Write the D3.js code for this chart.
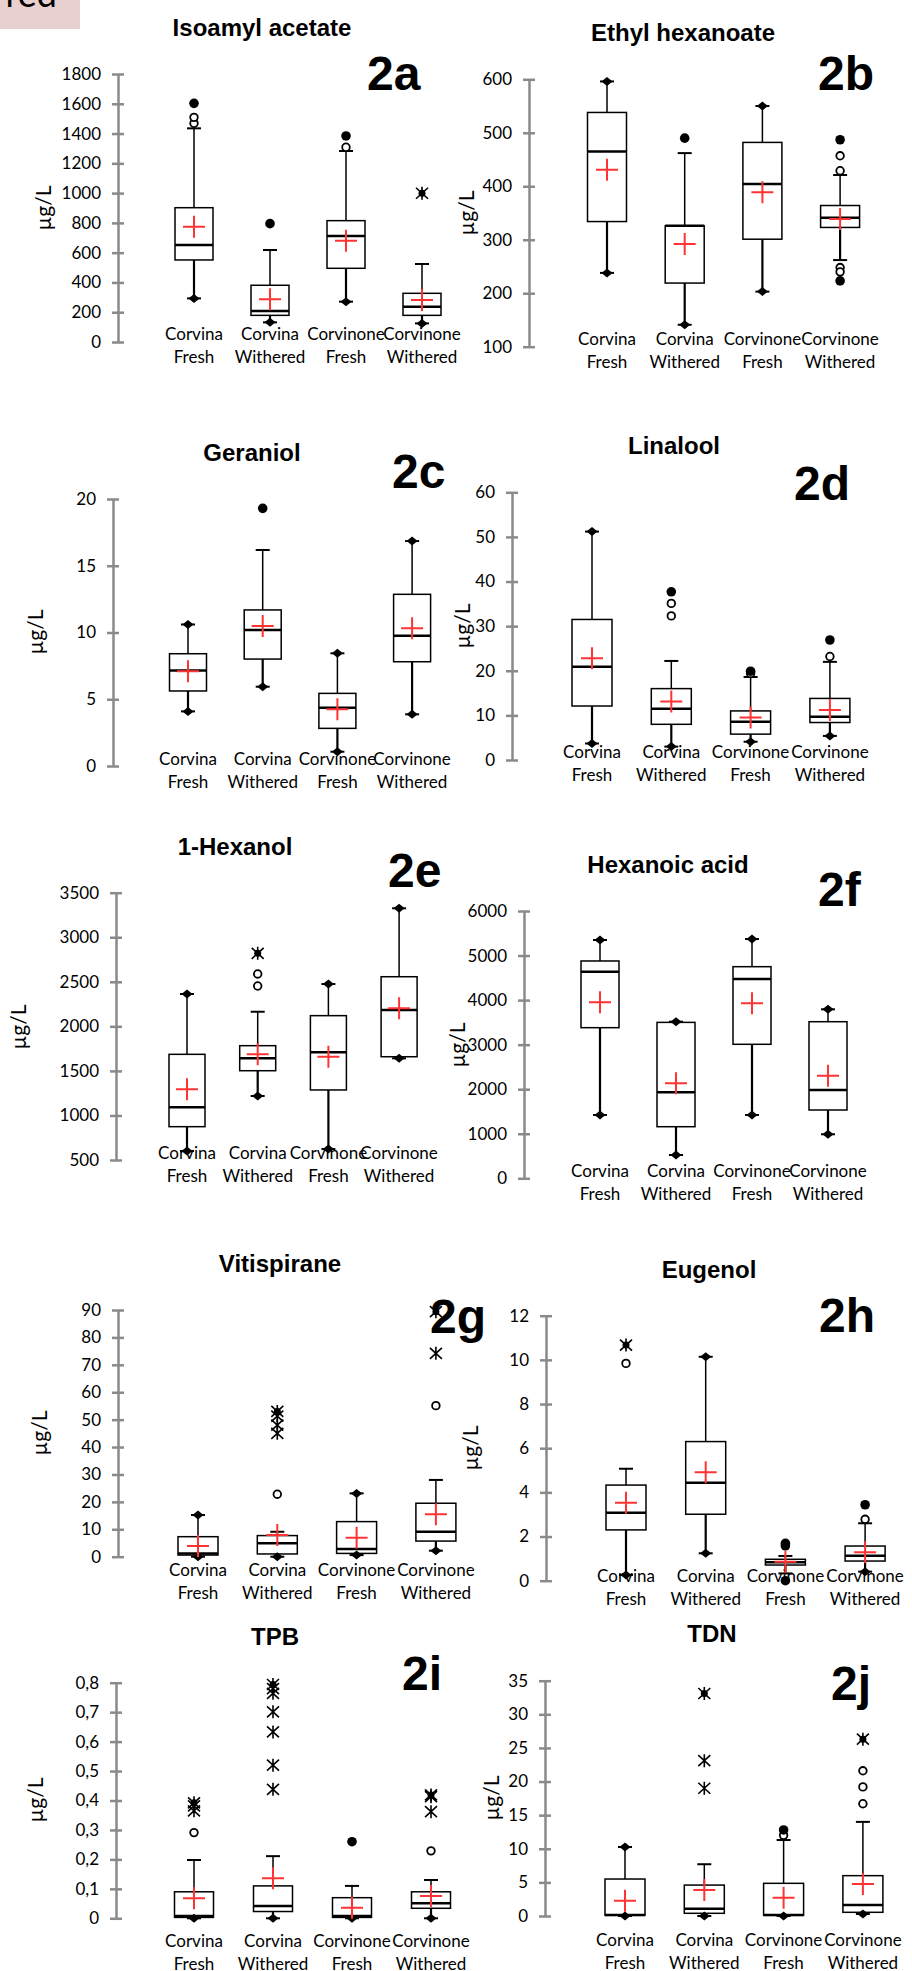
<!DOCTYPE html>
<html lang="en">
<head>
<meta charset="UTF-8">
<title>Aroma compounds - box plots</title>
<style>
    body, html {
        margin: 0;
        padding: 0;
        background: #fff;
    }
    svg text {
        fill: #000;
    }
    .tick-label, .cat-label {
        font-family: Lato, "Open Sans", sans-serif;
        font-size: 17px;
    }
    .y-label {
        font-family: Lato, "Open Sans", sans-serif;
        font-size: 21px;
    }
    .title {
        font-family: "Liberation Sans", Arial, sans-serif;
        font-weight: bold;
        font-size: 24px;
    }
    .tag {
        font-family: "Liberation Sans", Arial, sans-serif;
        font-weight: bold;
        font-size: 48px;
    }
</style>
</head>
<body>
<svg id="chart" width="912" height="1971"></svg>

<script src="https://d3js.org/d3.v7.min.js"></script>
<script>
    const categories = ["Corvina Fresh", "Corvina Withered", "Corvinone Fresh", "Corvinone Withered"];

    // each box row: [whisker low, Q1, median, Q3, whisker high]
    // outliers: [value, kind]  kind: o = open circle, f = filled circle, s = star, S = star on filled circle
    const isoamylBox = [[293, 551, 651, 902, 1435], [132, 179, 208, 381, 618], [271, 495, 712, 815, 1283], [125, 179, 237, 327, 524]];
    const isoamylMean = [774, 287, 680, 282];
    const isoamylOut = [[[1469, "o"], [1509, "o"], [1603, "f"]], [[795, "f"]], [[1308, "o"], [1384, "f"]], [[999, "S"]]];

    const ethylHexBox = [[238, 334, 465, 538, 596], [141, 219, 326, 326, 462], [203, 301, 404, 482, 550], [262, 323, 341, 364, 421]];
    const ethylHexMean = [431, 292, 389, 339];
    const ethylHexOut = [[], [[490, "f"]], [], [[429, "o"], [457, "o"], [487, "f"], [248, "o"], [240, "o"], [223, "f"]]];

    const geraniolBox = [[4.09, 5.62, 7.16, 8.41, 10.6], [5.94, 8.01, 10.19, 11.69, 16.18], [1.07, 2.82, 4.37, 5.44, 8.44], [3.87, 7.81, 9.76, 12.86, 16.85]];
    const geraniolMean = [7.1, 10.49, 4.25, 10.31];
    const geraniolOut = [[], [[19.3, "f"]], [], []];

    const linaloolBox = [[3.7, 12.1, 20.9, 31.5, 51.2], [3.0, 8.0, 11.5, 16.0, 22.2], [4.1, 5.8, 8.6, 11.0, 18.6], [5.4, 8.4, 9.7, 13.8, 22.0]];
    const linaloolMean = [22.8, 13.1, 9.5, 11.2];
    const linaloolOut = [[], [[32.3, "o"], [35.1, "o"], [37.7, "f"]], [[19.4, "o"], [19.9, "f"]], [[23.2, "o"], [26.9, "f"]]];

    const hexanolBox = [[601, 874, 1091, 1686, 2363], [1218, 1502, 1641, 1783, 2164], [623, 1286, 1709, 2120, 2475], [1641, 1659, 2183, 2557, 3325]];
    const hexanolMean = [1293, 1686, 1659, 2203];
    const hexanolOut = [[], [[2453, "o"], [2588, "o"], [2820, "S"]], [], []];

    const hexAcidBox = [[1421, 3381, 4638, 4878, 5349], [523, 1158, 1930, 3500, 3515], [1421, 3008, 4474, 4750, 5372], [988, 1533, 1982, 3515, 3793]];
    const hexAcidMean = [3951, 2132, 3928, 2303];
    const hexAcidOut = [[], [], [], []];

    const vitispiraneBox = [[0.0, 0.6, 1.2, 7.3, 15.2], [0.0, 1.0, 4.9, 7.7, 9.1], [0.6, 1.2, 2.8, 12.8, 23.1], [2.2, 5.7, 9.1, 19.5, 28.0]];
    const vitispiraneMean = [3.9, 7.9, 6.9, 15.5];
    const vitispiraneOut = [[], [[22.8, "o"], [45.0, "s"], [48.0, "s"], [51.3, "s"], [53.0, "S"]], [], [[55.1, "o"], [74.2, "s"], [89.4, "S"]]];

    const eugenolBox = [[0.26, 2.30, 3.08, 4.33, 5.07], [1.24, 3.01, 4.44, 6.30, 10.14], [0.33, 0.71, 0.83, 0.97, 1.12], [0.41, 0.89, 1.13, 1.57, 2.60]];
    const eugenolMean = [3.53, 4.91, 0.86, 1.29];
    const eugenolOut = [[[9.84, "o"], [10.67, "S"]], [], [[1.58, "f"], [1.69, "f"], [0.0, "f"]], [[2.78, "o"], [3.44, "f"]]];

    const tpbBox = [[0, 0.003, 0.008, 0.090, 0.198], [0, 0.023, 0.042, 0.110, 0.211], [0, 0.003, 0.008, 0.070, 0.110], [0, 0.034, 0.051, 0.090, 0.130]];
    const tpbMean = [0.068, 0.136, 0.036, 0.076];
    const tpbOut = [[[0.291, "o"], [0.365, "s"], [0.382, "s"], [0.392, "S"]],
        [[0.438, "s"], [0.520, "s"], [0.633, "s"], [0.701, "s"], [0.764, "s"], [0.780, "s"], [0.794, "S"]],
        [[0.26, "f"]],
        [[0.229, "o"], [0.362, "s"], [0.413, "s"], [0.419, "S"]]];

    const tdnBox = [[0, 0.1, 0.15, 5.5, 10.26], [0, 0.4, 1.09, 4.6, 7.7], [0, 0.1, 0.15, 4.86, 11.3], [0.3, 0.55, 1.64, 6.0, 14.0]];
    const tdnMean = [2.28, 3.87, 2.73, 4.76];
    const tdnOut = [[], [[19.0, "s"], [23.1, "s"], [33.1, "S"]], [[12.0, "o"], [12.8, "f"]], [[16.7, "o"], [19.2, "o"], [21.6, "o"], [26.3, "S"]]];

    const titles = ["Isoamyl acetate", "Ethyl hexanoate", "Geraniol", "Linalool", "1-Hexanol", "Hexanoic acid", "Vitispirane", "Eugenol", "TPB", "TDN"];
    const tags = ["2a", "2b", "2c", "2d", "2e", "2f", "2g", "2h", "2i", "2j"];
    const yDomains = [[0, 1800], [100, 600], [0, 20], [0, 60], [500, 3500], [0, 6000], [0, 90], [0, 12], [0, 0.8], [0, 35]];
    const yTickSteps = [200, 100, 5, 10, 500, 1000, 10, 2, 0.1, 5];
    const boxes = [isoamylBox, ethylHexBox, geraniolBox, linaloolBox, hexanolBox, hexAcidBox, vitispiraneBox, eugenolBox, tpbBox, tdnBox];
    const means = [isoamylMean, ethylHexMean, geraniolMean, linaloolMean, hexanolMean, hexAcidMean, vitispiraneMean, eugenolMean, tpbMean, tdnMean];
    const outliers = [isoamylOut, ethylHexOut, geraniolOut, linaloolOut, hexanolOut, hexAcidOut, vitispiraneOut, eugenolOut, tpbOut, tdnOut];

    // panel placement on the page
    const layouts = [
        {ax: 118, yTop: 74, yBot: 342, c0: 194, step: 76, bw: 38, labelY: 340, tx: 262, ty: 36, gx: 367, gy: 90, lx: 51, ly: 208},
        {ax: 529, yTop: 79.3, yBot: 346.7, c0: 607, step: 77.7, bw: 39, labelY: 345, tx: 683, ty: 41, gx: 818, gy: 90, lx: 474, ly: 213},
        {ax: 113, yTop: 499, yBot: 766, c0: 188, step: 74.7, bw: 37, labelY: 765, tx: 252, ty: 461, gx: 392, gy: 488, lx: 43, ly: 632},
        {ax: 512, yTop: 492.3, yBot: 760, c0: 592, step: 79.3, bw: 40, labelY: 758, tx: 674, ty: 454, gx: 794, gy: 500, lx: 470, ly: 626},
        {ax: 116, yTop: 892.7, yBot: 1160, c0: 187, step: 70.7, bw: 36, labelY: 1159, tx: 235, ty: 855, gx: 388, gy: 887, lx: 26, ly: 1027},
        {ax: 524, yTop: 911, yBot: 1178.3, c0: 600, step: 76, bw: 38, labelY: 1177, tx: 668, ty: 873, gx: 818, gy: 906, lx: 465, ly: 1045},
        {ax: 118, yTop: 1310, yBot: 1556.7, c0: 198, step: 79.3, bw: 40, labelY: 1576, tx: 280, ty: 1272, gx: 430, gy: 1333, lx: 47, ly: 1433},
        {ax: 546, yTop: 1315.7, yBot: 1580.7, c0: 626, step: 79.7, bw: 40, labelY: 1582, tx: 709, ty: 1278, gx: 819, gy: 1332, lx: 478, ly: 1448},
        {ax: 116, yTop: 1682.7, yBot: 1918.3, c0: 194, step: 79, bw: 39, labelY: 1947, tx: 275, ty: 1645, gx: 402, gy: 1690, lx: 43, ly: 1800},
        {ax: 545, yTop: 1680.7, yBot: 1916, c0: 625, step: 79.3, bw: 40, labelY: 1946, tx: 712, ty: 1642, gx: 831, gy: 1700, lx: 499, ly: 1798}
    ];

    const svg = d3.select("#chart");
    const axisColor = "#8a8a8a";
    const meanColor = "#ff3333";

    // leftover caption strip at the top-left corner
    svg.append("rect").attr("x", 0).attr("y", 0).attr("width", 80).attr("height", 29).attr("fill", "#e8d0d0");
    svg.append("text").attr("x", 57).attr("y", 7).attr("text-anchor", "end")
        .style("font-family", "Lato, sans-serif").style("font-size", "36px").text("red");

    function fmtTick(i) {
        if (i === 8) return d => d === 0 ? "0" : d3.format(".1f")(d).replace(".", ",");
        return d3.format("d");
    }

    titles.forEach((title, i) => {
        const L = layouts[i];
        const g = svg.append("g");

        const y = d3.scaleLinear().domain(yDomains[i]).range([L.yBot, L.yTop]);
        const x = d3.scaleBand().domain(categories)
            .range([L.c0 - L.step / 2, L.c0 + 3.5 * L.step]).padding(0);
        const cx = c => x(c) + x.bandwidth() / 2;

        g.append("text").attr("class", "title").attr("x", L.tx).attr("y", L.ty)
            .attr("text-anchor", "middle").text(title);
        g.append("text").attr("class", "tag").attr("x", L.gx).attr("y", L.gy).text(tags[i]);

        const [d0, d1] = yDomains[i];
        const n = Math.round((d1 - d0) / yTickSteps[i]);
        const ticks = d3.range(n + 1).map(k => +(d0 + k * yTickSteps[i]).toFixed(4));

        const axis = g.append("g").attr("transform", `translate(${L.ax},0)`)
            .call(d3.axisLeft(y).tickValues(ticks).tickSizeInner(6).tickSizeOuter(0)
                .tickPadding(11).tickFormat(fmtTick(i)));
        axis.attr("font-family", null).attr("font-size", null);
        axis.select(".domain").attr("stroke", axisColor).attr("stroke-width", 2.5);
        axis.selectAll(".tick line").attr("stroke", axisColor).attr("stroke-width", 2.5).attr("x1", 6);
        axis.selectAll(".tick text").attr("class", "tick-label").attr("fill", "#000");

        g.append("text").attr("class", "y-label")
            .attr("transform", `translate(${L.lx},${L.ly}) rotate(-90)`)
            .attr("text-anchor", "middle").text("µg/L");

        categories.forEach((cat, j) => {
            const parts = cat.split(" ");
            const t = g.append("text").attr("class", "cat-label").attr("text-anchor", "middle");
            t.append("tspan").attr("x", cx(cat)).attr("y", L.labelY).text(parts[0]);
            t.append("tspan").attr("x", cx(cat)).attr("y", L.labelY + 23).text(parts[1]);

            const [lo, q1, md, q3, hi] = boxes[i][j];
            const c = cx(cat);
            const hw = L.bw / 2;
            const outs = outliers[i][j];

            g.append("line").attr("x1", c).attr("x2", c).attr("y1", y(q3)).attr("y2", y(hi))
                .attr("stroke", "#000").attr("stroke-width", 1.5);
            g.append("line").attr("x1", c).attr("x2", c).attr("y1", y(q1)).attr("y2", y(lo))
                .attr("stroke", "#000").attr("stroke-width", 2.2);
            [lo, hi].forEach(v => {
                g.append("line").attr("x1", c - 7).attr("x2", c + 7).attr("y1", y(v)).attr("y2", y(v))
                    .attr("stroke", "#000").attr("stroke-width", 2);
            });

            g.append("rect").attr("x", c - hw).attr("y", y(q3)).attr("width", L.bw)
                .attr("height", Math.max(0.5, y(q1) - y(q3)))
                .attr("fill", "#fff").attr("stroke", "#000").attr("stroke-width", 1.5);
            g.append("line").attr("x1", c - hw).attr("x2", c + hw).attr("y1", y(md)).attr("y2", y(md))
                .attr("stroke", "#000").attr("stroke-width", 2.5);

            // diamonds mark min / max when no outlier lies beyond that whisker
            const hasHigh = outs.some(o => o[0] > q3);
            const hasLow = outs.some(o => o[0] < q1);
            const diamond = "M0,-4.5L5.5,0L0,4.5L-5.5,0Z";
            if (!hasHigh) g.append("path").attr("d", diamond).attr("transform", `translate(${c},${y(hi)})`).attr("fill", "#000");
            if (!hasLow) g.append("path").attr("d", diamond).attr("transform", `translate(${c},${y(lo)})`).attr("fill", "#000");

            const m = y(means[i][j]);
            g.append("path").attr("d", `M${c - 11},${m}H${c + 11}M${c},${m - 11}V${m + 11}`)
                .attr("stroke", meanColor).attr("stroke-width", 2).attr("fill", "none");

            outs.forEach(([v, kind]) => {
                const py = y(v);
                if (kind === "o") {
                    g.append("circle").attr("cx", c).attr("cy", py).attr("r", 3.8)
                        .attr("fill", "#fff").attr("stroke", "#000").attr("stroke-width", 1.8);
                } else if (kind === "f") {
                    g.append("circle").attr("cx", c).attr("cy", py).attr("r", 4.8).attr("fill", "#000");
                } else {
                    if (kind === "S") g.append("circle").attr("cx", c).attr("cy", py).attr("r", 3.5).attr("fill", "#000");
                    g.append("path")
                        .attr("d", `M${c - 6},${py - 5.5}L${c + 6},${py + 5.5}M${c + 6},${py - 5.5}L${c - 6},${py + 5.5}M${c},${py - 6.5}V${py + 6.5}`)
                        .attr("stroke", "#000").attr("stroke-width", 1.6).attr("fill", "none");
                }
            });
        });
    });
</script>
</body>
</html>
